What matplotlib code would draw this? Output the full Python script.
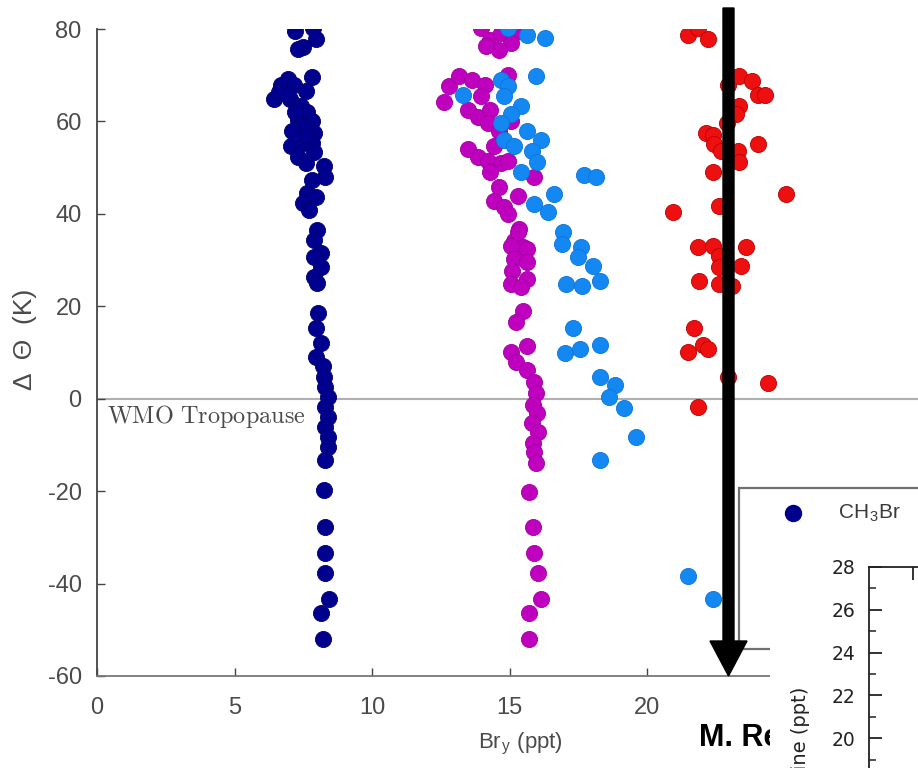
import matplotlib.pyplot as plt
from matplotlib.patches import Rectangle, FancyArrow
from matplotlib.ticker import MultipleLocator

plt.rcParams['font.family'] = ['Liberation Sans', 'DejaVu Sans']
plt.rcParams['mathtext.fontset'] = 'cm'
plt.rcParams['axes.unicode_minus'] = False

# Bry profiles against potential temperature above the tropopause
navy_x = [7.2, 7.85, 7.95, 7.5, 7.3,
          7.8, 6.95, 6.7, 6.45, 6.6, 7.15, 7.0, 7.4, 7.65, 7.8, 7.3, 7.5, 7.9,
          7.05, 7.5, 7.8, 7.9, 7.3, 7.6, 8.25, 8.3, 7.8, 7.65, 7.95, 7.5, 7.7,
          7.2, 7.6, 7.1, 6.9, 7.6,
          8.0, 7.9, 8.15, 7.9, 8.15, 7.9, 8.0, 8.05, 7.95, 8.15, 7.95, 8.2,
          8.25, 8.3, 8.4, 8.3, 8.4, 8.3, 8.4, 8.4, 8.3,
          8.25, 8.3, 8.3, 8.3, 8.45, 8.15, 8.2]
navy_y = [79.6, 80.2, 77.8, 76.1, 75.6,
          69.6, 69.2, 67.8, 64.8, 66.3, 67.8, 64.8, 63.3, 62.0, 60.0, 60.4, 58.3, 57.6,
          54.6, 55.4, 55.4, 53.3, 52.4, 51.1, 50.4, 48.0, 47.4, 44.6, 43.7, 42.4, 40.9,
          62.0, 57.0, 58.0, 66.0, 66.5,
          36.5, 34.3, 31.5, 30.7, 28.6, 26.3, 25.0, 18.5, 15.4, 12.0, 9.1, 7.0,
          4.8, 2.6, 0.4, -1.7, -3.9, -6.1, -8.3, -10.4, -13.3,
          -19.8, -27.8, -33.3, -37.8, -43.3, -46.3, -52.0]

magenta_x = [13.96, 14.3, 14.7, 15.15, 15.05, 14.6, 14.15,
             12.6, 12.8, 13.15, 13.65, 14.1, 13.95, 13.5, 13.85, 14.3, 14.2, 14.6,
             15.05, 14.95, 13.5, 13.85, 14.2, 14.45, 14.7, 14.3, 14.95, 15.9, 14.6,
             14.45, 14.8, 15.3, 14.95, 15.35, 15.15, 15.5,
             15.3, 15.05, 15.65, 15.15, 15.65, 15.1, 15.65, 15.05, 15.4, 15.5, 15.25,
             15.05, 15.65, 15.25, 15.65, 15.9, 15.95, 15.85, 16.0, 15.8, 16.05, 15.85,
             15.9, 15.95,
             15.7, 15.85, 15.9, 16.05, 16.15, 15.7, 15.7]
magenta_y = [80.2, 77.6, 79.1, 79.1, 77.0, 75.4, 76.3,
             64.3, 67.6, 69.8, 68.9, 67.8, 65.4, 62.4, 61.0, 62.4, 59.6, 58.0,
             60.2, 70.0, 54.1, 52.4, 51.5, 54.6, 50.9, 49.1, 51.5, 48.0, 45.9,
             42.8, 41.5, 43.9, 40.0, 36.7, 34.1, 32.8,
             36.0, 33.0, 32.4, 30.2, 29.6, 27.6, 25.9, 24.8, 24.1, 18.9, 16.5,
             10.2, 11.3, 8.0, 6.3, 3.7, 1.3, -1.3, -3.0, -5.2, -7.2, -9.6,
             -11.5, -13.9,
             -20.2, -27.8, -33.3, -37.8, -43.3, -46.3, -52.0]

blue_x = [14.95, 15.65, 16.3, 15.95, 13.3, 14.7, 14.95, 14.8, 15.4, 15.05,
          14.7, 15.65, 16.15, 14.8, 15.15, 15.8, 16.0, 15.4, 17.7, 18.15,
          16.6, 15.9, 16.4, 16.95, 16.9, 17.6, 17.5, 18.05, 18.3, 17.05, 17.65,
          17.3, 17.0, 17.55, 18.3, 18.3, 18.85, 18.6, 19.15, 19.6, 18.3,
          21.5, 22.4]
blue_y = [80.2, 78.7, 78.0, 69.8, 65.7, 68.9, 67.6, 65.4, 63.3, 61.7,
          59.6, 58.0, 55.9, 55.9, 54.6, 53.7, 51.3, 49.1, 48.3, 48.0,
          44.3, 42.2, 40.4, 36.1, 33.5, 32.8, 30.6, 28.7, 25.4, 24.8, 24.3,
          15.4, 10.0, 10.7, 11.7, 4.8, 3.0, 0.4, -2.0, -8.3, -13.3,
          -38.3, -43.3]

red_x = [21.5, 21.85, 22.2, 22.95, 23.35, 23.8, 24.05, 24.3, 23.35, 23.25,
         22.9, 22.15, 22.4, 22.45, 22.7, 23.3, 23.35, 24.05, 22.4, 25.05,
         20.95, 22.6, 21.85, 22.4, 22.6, 23.6, 23.4, 22.6, 21.9, 22.6, 23.1,
         21.7, 22.05, 22.2, 21.5, 22.95, 24.4, 21.85]
red_y = [78.7, 80.2, 77.8, 67.8, 69.8, 68.7, 65.7, 65.7, 63.3, 61.7,
         59.6, 57.4, 57.0, 55.2, 53.7, 53.7, 51.3, 55.2, 49.1, 44.3,
         40.4, 41.7, 32.8, 33.0, 30.9, 32.8, 28.7, 28.5, 25.4, 24.8, 24.3,
         15.4, 11.7, 10.7, 10.2, 4.6, 3.5, -1.7]

x_ticks = [0, 5, 10, 15, 20]
y_ticks = [-60, -40, -20, 0, 20, 40, 60, 80]
inset_ticks = [20, 22, 24, 26, 28]

W, H = 918, 768
fig = plt.figure(figsize=(W / 100, H / 100), dpi=100)

ax = fig.add_axes([97 / W, 92 / H, 825 / W, 647 / H])
ms = 135
ax.scatter(navy_x, navy_y, s=ms, c='#00008f', edgecolors='#000070', linewidths=0.6, zorder=3)
ax.scatter(magenta_x, magenta_y, s=ms, c='#bf00bf', edgecolors='#a000a0', linewidths=0.6, zorder=3)
ax.scatter(blue_x, blue_y, s=ms, c='#1488f2', edgecolors='#0c74d8', linewidths=0.6, zorder=4)
ax.scatter(red_x, red_y, s=ms, c='#ee1010', edgecolors='#b80000', linewidths=0.6, zorder=3)

ax.axhline(0, color='#b0b0b0', lw=1.5, zorder=1)
ax.text(0.35, -0.9, r'$\mathrm{WMO\ Tropopause}$', fontsize=17.5, color='#4a4a4a',
        ha='left', va='top', zorder=2)

ax.set_xlim(0, 30)
ax.set_ylim(-60, 80)
ax.set_xticks(x_ticks)
ax.set_yticks(y_ticks)
for side in ('top', 'right'):
    ax.spines[side].set_visible(False)
for side in ('left', 'bottom'):
    ax.spines[side].set_color('#444444')
    ax.spines[side].set_linewidth(1.3)
ax.spines['bottom'].set_color('#777777')
ax.tick_params(direction='in', length=6, width=1, colors='#444444', labelsize=17,
               labelcolor='#4a4a4a')
ax.tick_params(axis='x', pad=15)
ax.tick_params(axis='y', pad=11)

ax.set_xlabel(r'Br$_\mathregular{y}$ (ppt)', fontsize=16, color='#4a4a4a')
ax.xaxis.set_label_coords(0.513, -0.085)
ax.set_ylabel('Δ  Θ  (K)', fontsize=19, color='#4a4a4a')
ax.yaxis.set_label_coords(-0.073, 0.52)

# arrow pointing down to the axis
fig.add_artist(FancyArrow(728.5 / W, 1 - 8 / H, 0, -(676 - 8) / H,
                          width=11 / W, head_width=37 / W, head_length=35 / H,
                          length_includes_head=True, color='black',
                          transform=fig.transFigure, zorder=4))

# legend box, partly hidden
fig.add_artist(Rectangle((739 / W, 1 - 649 / H), 300 / W, 161 / H,
                         transform=fig.transFigure, facecolor='white',
                         edgecolor='#707070', lw=1.6, zorder=2))
fig.add_artist(plt.Line2D([793 / W], [1 - 513 / H], marker='o', markersize=11.5,
                          color='#00008f', transform=fig.transFigure, zorder=3))
fig.text(838 / W, 1 - 513 / H, r'CH$_\mathregular{3}$Br', fontsize=15, color='#3a3a3a',
         ha='left', va='center', zorder=3)

fig.text(699 / W, 1 - 746 / H, 'M. Rex', fontsize=22, fontweight='bold',
         color='black', ha='left', va='baseline', zorder=4)

# inset panel on top
fig.add_artist(Rectangle((770 / W, -0.2), 400 / W, 0.2 + 1 - 539 / H,
                         transform=fig.transFigure, facecolor='white',
                         edgecolor='none', zorder=5))
ax_in = fig.add_axes([869 / W, 1 - 800 / H, 240 / W, 233 / H], zorder=6)
ax_in.set_ylim(28 - 233 / 21.4, 28)
ax_in.set_xlim(1995.5, 2020)
ax_in.set_yticks(inset_ticks)
ax_in.yaxis.set_minor_locator(MultipleLocator(1))
ax_in.set_xticks([2000])
ax_in.tick_params(axis='both', which='both', direction='in', top=True, bottom=False,
                  labelbottom=False, colors='#222222', labelsize=13.5,
                  labelfontfamily='DejaVu Sans')
ax_in.tick_params(which='major', length=9, width=1.3)
ax_in.tick_params(which='minor', length=5, width=1.1)
ax_in.tick_params(axis='y', pad=10)
for s in ax_in.spines.values():
    s.set_color('#222222')
    s.set_linewidth(1.3)
fig.text(800 / W, 1 - 687 / H, 'Total bromine (ppt)', rotation=90, fontsize=14,
         family='DejaVu Sans', color='#222222', ha='center', va='top', zorder=7)

fig.savefig('out.png', dpi=100)
